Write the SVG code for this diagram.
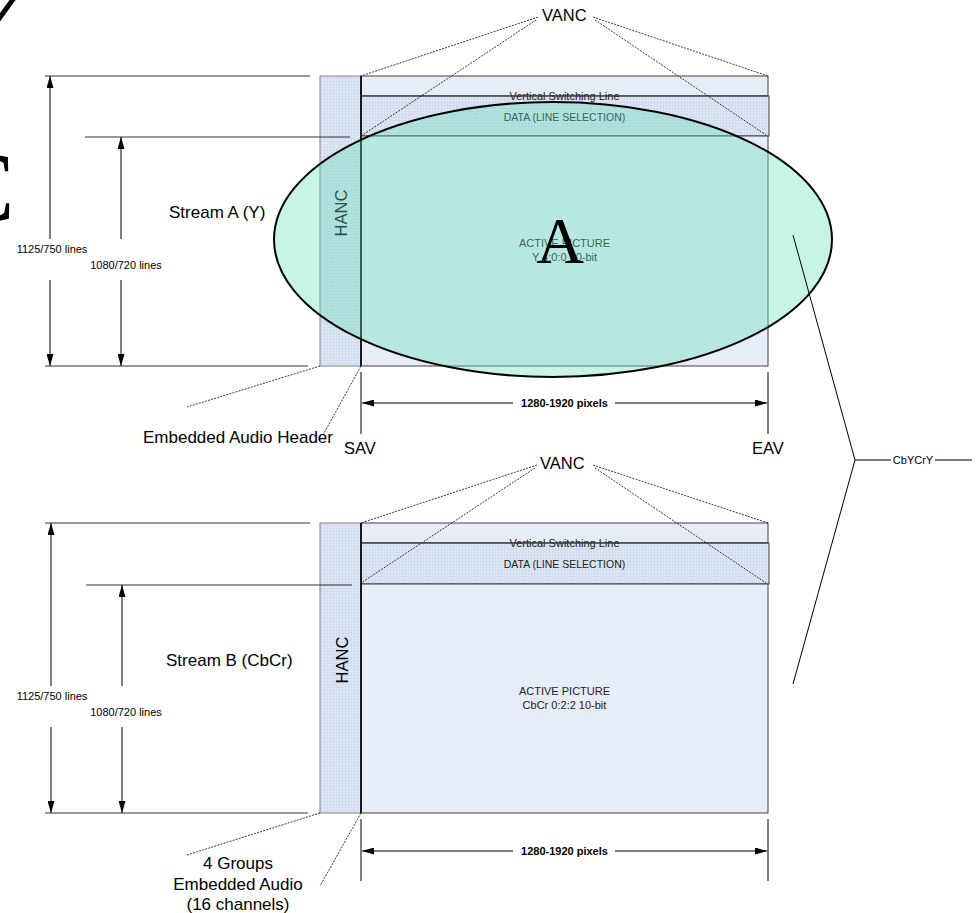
<svg xmlns="http://www.w3.org/2000/svg" width="976" height="913" viewBox="0 0 976 913">
<defs>
<pattern id="grid" width="3" height="3" patternUnits="userSpaceOnUse"><rect width="3" height="3" fill="#dde6f3"/><path d="M0 0.5H3M0.5 0V3" stroke="#c8d5ea" stroke-width="0.5"/></pattern>
<marker id="ah" viewBox="0 0 12 7" refX="12" refY="3.5" markerWidth="12" markerHeight="7" markerUnits="userSpaceOnUse" orient="auto"><path d="M0,0L12,3.5L0,7z" fill="#000"/></marker>
<style>
text{font-family:"Liberation Sans",Arial,sans-serif;fill:#000}
.big{font-size:17px}
.mid{font-size:16.5px}
.sm{font-size:11px;fill:#222}
.dim{font-size:11px;font-weight:bold}
.band{fill:#e6edf8;stroke:#404040;stroke-width:1}
.pat{fill:url(#grid);stroke:#404040;stroke-width:1}
.hanc{fill:url(#grid);stroke:#808080;stroke-width:1}
.edge{stroke:#1a1a1a;stroke-width:2;fill:none}
.ext{stroke:#333;stroke-width:1;fill:none}
.arr{stroke:#000;stroke-width:1;fill:none;marker-end:url(#ah)}
.tick{stroke:#000;stroke-width:1;fill:none}
.dash{stroke:#222;stroke-width:0.9;stroke-dasharray:2 1.2;fill:none}
.solid{stroke:#000;stroke-width:1;fill:none}
</style>
</defs>

<g id="glyph-fragments">
<path d="M-2,20 L14,-2" stroke="#000" stroke-width="5" fill="none"/>
<text x="-52" y="220" style="font-family:'Liberation Serif',serif;font-size:100px">C</text>
</g>

<!-- Stream A -->
<g id="hanc-a">
<rect class="hanc" x="320" y="76" width="41" height="290"/>
<text class="mid" transform="translate(347,213) rotate(-90)" text-anchor="middle">HANC</text>
</g>
<g id="frame-a">
<rect class="band" x="361" y="76" width="407" height="20"/>
<rect class="pat" x="361" y="96" width="408" height="40"/>
<rect class="band" x="361" y="136" width="407" height="230"/>
<text class="sm" x="564.5" y="100" text-anchor="middle">Vertical Switching Line</text>
<line x1="361" y1="96" x2="768" y2="96" stroke="#404040" stroke-width="1"/>
<text class="sm" x="564.5" y="121" text-anchor="middle" style="font-size:10.5px">DATA (LINE SELECTION)</text>
<text class="sm" x="564.5" y="247" text-anchor="middle">ACTIVE PICTURE</text>
<text class="sm" x="564.5" y="261" text-anchor="middle">Y 4:0:0 10-bit</text>
<line class="edge" x1="361" y1="76" x2="361" y2="366"/>
</g>
<g id="label-stream-a"><text class="big" x="169" y="218">Stream A (Y)</text></g>
<g id="label-vanc-a"><text class="mid" x="542" y="21">VANC</text></g>
<g id="label-eah"><text class="big" x="143" y="443">Embedded Audio Header</text></g>
<g id="label-sav"><text class="mid" x="344" y="454">SAV</text></g>
<g id="label-eav"><text class="mid" x="752" y="454">EAV</text></g>

<!-- Stream B -->
<g id="hanc-b">
<rect class="hanc" x="320" y="523" width="41" height="290"/>
<text class="mid" transform="translate(348,660) rotate(-90)" text-anchor="middle">HANC</text>
</g>
<g id="frame-b">
<rect class="band" x="361" y="523" width="407" height="20"/>
<rect class="pat" x="361" y="543" width="408" height="41"/>
<rect class="band" x="361" y="584" width="407" height="229"/>
<text class="sm" x="564.5" y="547" text-anchor="middle">Vertical Switching Line</text>
<line x1="361" y1="543" x2="768" y2="543" stroke="#404040" stroke-width="1"/>
<text class="sm" x="564.5" y="568" text-anchor="middle" style="font-size:10.5px">DATA (LINE SELECTION)</text>
<text class="sm" x="564.5" y="695" text-anchor="middle">ACTIVE PICTURE</text>
<text class="sm" x="564.5" y="709" text-anchor="middle">CbCr 0:2:2 10-bit</text>
<line class="edge" x1="361" y1="523" x2="361" y2="813"/>
</g>
<g id="label-stream-b"><text class="big" x="166" y="666">Stream B (CbCr)</text></g>
<g id="label-vanc-b"><text class="mid" x="540" y="469">VANC</text></g>
<g id="label-groups">
<text class="big" x="238" y="869" text-anchor="middle">4 Groups</text>
<text class="big" x="238" y="890" text-anchor="middle">Embedded Audio</text>
<text class="big" x="238" y="910" text-anchor="middle">(16 channels)</text>
</g>

<g id="connectors">
<!-- Stream A dimensions -->
<path class="ext" d="M45,76H310M85,137H350M45,366H308"/>
<path class="arr" d="M50,239V76"/><path class="arr" d="M50,280V366"/>
<path class="arr" d="M121,239V137"/><path class="arr" d="M121,280V366"/>
<path class="tick" d="M361,372V434M768,372V434"/>
<path class="arr" d="M513,403H362"/><path class="arr" d="M615,403H767"/>
<path class="dash" d="M538,17L361,76M536,20L361,136M593,17L768,76M595,20L766,135"/>
<path class="dash" d="M320,366L187,407M361,366L323,435"/>
<!-- Stream B dimensions -->
<path class="ext" d="M45,523H310M86,585H352M45,813H308"/>
<path class="arr" d="M51,686V523"/><path class="arr" d="M51,727V813"/>
<path class="arr" d="M122,686V585"/><path class="arr" d="M122,727V813"/>
<path class="tick" d="M361,819V881M768,819V881"/>
<path class="arr" d="M513,851H362"/><path class="arr" d="M615,851H767"/>
<path class="dash" d="M537,465L361,523M535,468L361,583M593,465L768,523M595,468L766,583"/>
<path class="dash" d="M320,813L187,855M361,813L320,886"/>
</g>

<g id="dim-labels">
<text class="sm" x="52" y="253" text-anchor="middle" style="fill:#000">1125/750 lines</text>
<text class="sm" x="126" y="269" text-anchor="middle" style="fill:#000">1080/720 lines</text>
<text class="dim" x="564.5" y="407" text-anchor="middle">1280-1920 pixels</text>
<text class="sm" x="52" y="700" text-anchor="middle" style="fill:#000">1125/750 lines</text>
<text class="sm" x="126" y="716" text-anchor="middle" style="fill:#000">1080/720 lines</text>
<text class="dim" x="564.5" y="855" text-anchor="middle">1280-1920 pixels</text>
</g>

<g id="ellipse-a">
<ellipse cx="553" cy="239.5" rx="279" ry="137.5" fill="#67debd" fill-opacity="0.36" stroke="#000" stroke-width="2"/>
<text x="560" y="263" text-anchor="middle" style="font-family:'Liberation Serif',serif;font-size:66px">A</text>
</g>

<g id="bracket-cbycry">
<path class="solid" d="M793,235L855,460L793,684M855,460H891M935,460H972"/>
<text class="sm" x="913" y="464" text-anchor="middle" style="fill:#000">CbYCrY</text>
</g>
</svg>
